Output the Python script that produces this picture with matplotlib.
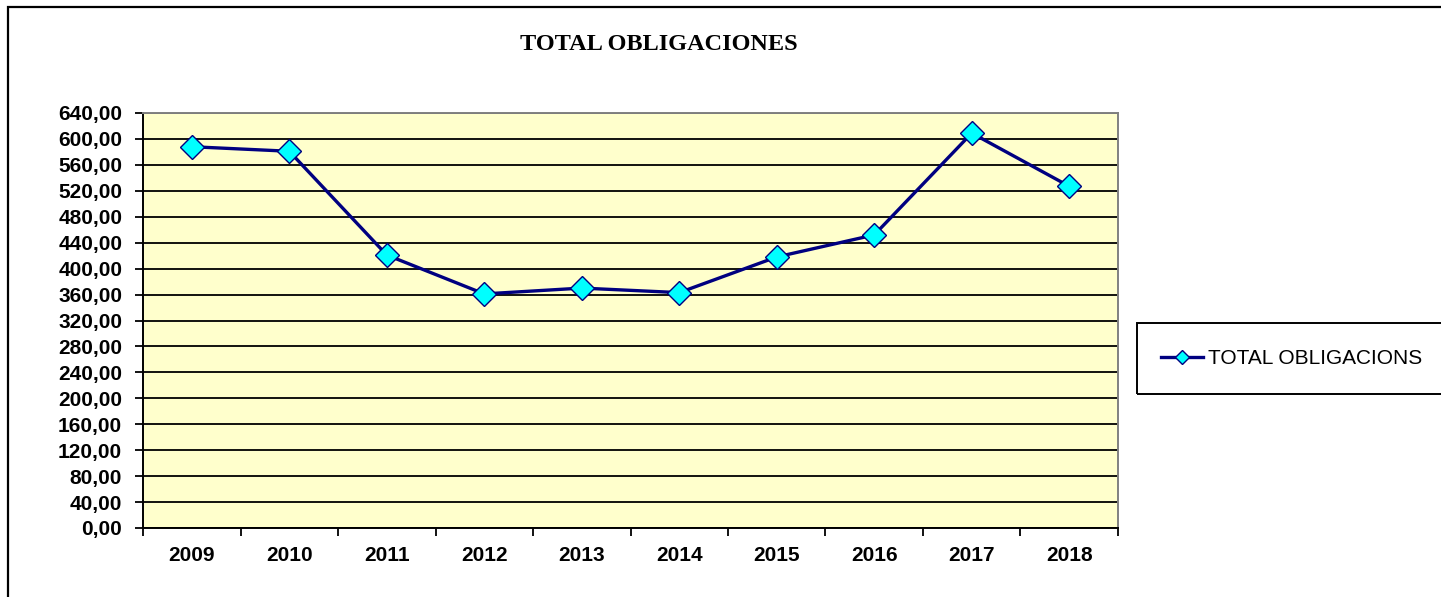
import matplotlib
matplotlib.use("Agg")
import matplotlib.pyplot as plt
from matplotlib.patches import Rectangle
from matplotlib.ticker import FixedLocator, FuncFormatter

years = ["2009", "2010", "2011", "2012", "2013", "2014", "2015", "2016", "2017", "2018"]
obligaciones = [588, 581, 421, 361, 370, 363, 418, 452, 609, 527]
y_ticks = list(range(0, 641, 40))

W, H = 1441, 597
fig = plt.figure(figsize=(W / 100, H / 100), dpi=100)
fig.patch.set_facecolor("white")

# outer chart border (left and top visible, rest runs off the picture)
fig.patches.append(Rectangle((8 / W, -0.05), 1.2, 1 - 7 / H + 0.05,
                             transform=fig.transFigure, fill=False,
                             edgecolor="black", linewidth=1.6))

ax = fig.add_axes([143 / W, (H - 528) / H, (1118 - 143) / W, (528 - 113) / H])
ax.set_facecolor("#FFFFCC")

x = list(range(len(years)))
line, = ax.plot(x, obligaciones, color="#000080", linewidth=2.4,
                marker="D", markersize=12.5, markerfacecolor="#00FFFF",
                markeredgecolor="#000080", markeredgewidth=1.0,
                label="TOTAL OBLIGACIONS", zorder=5)

ax.set_xlim(-0.5, len(years) - 0.5)
ax.set_ylim(0, 640)
ax.set_yticks(y_ticks)
ax.yaxis.set_major_formatter(FuncFormatter(lambda v, p: f"{v:.2f}".replace(".", ",")))
ax.yaxis.grid(True, color="black", linewidth=1.3)
ax.set_axisbelow(True)

ax.set_xticks(x)
ax.set_xticklabels(years)
ax.xaxis.set_minor_locator(FixedLocator([i - 0.5 for i in range(len(years) + 1)]))
ax.tick_params(axis="x", which="major", length=0, pad=13)
ax.tick_params(axis="x", which="minor", length=6, width=1.3, color="black", direction="out")
ax.tick_params(axis="y", length=6, width=1.3, color="black", direction="out", pad=9)

for lab in ax.get_xticklabels():
    lab.set_fontfamily("Liberation Sans")
    lab.set_fontweight("bold")
    lab.set_fontsize(15)
for lab in ax.get_yticklabels():
    lab.set_fontfamily("Liberation Sans")
    lab.set_fontweight("bold")
    lab.set_fontsize(15)

ax.spines["left"].set_color("black")
ax.spines["bottom"].set_color("black")
ax.spines["left"].set_linewidth(1.4)
ax.spines["bottom"].set_linewidth(1.4)
ax.spines["top"].set_color("#808080")
ax.spines["right"].set_color("#808080")
ax.spines["top"].set_linewidth(1.4)
ax.spines["right"].set_linewidth(1.4)

fig.text(0.5 * (528 + 790) / W, 1 - 44 / H, "TOTAL OBLIGACIONES", ha="center", va="center",
         fontfamily="Liberation Serif", fontweight="bold", fontsize=17.5)

# legend box running off the right edge
fig.patches.append(Rectangle((1137 / W, 1 - 394 / H), 0.5, (394 - 323) / H,
                             transform=fig.transFigure, fill=False,
                             edgecolor="black", linewidth=1.4))
leg = fig.legend(handles=[line], loc="center left",
                 bbox_to_anchor=(1161 / W, 1 - 359 / H), frameon=False,
                 prop={"family": "Liberation Sans", "size": 15},
                 handlelength=2.0, handletextpad=0.25, markerscale=0.55,
                 borderaxespad=0, borderpad=0)

fig.savefig("out.png", dpi=100)
